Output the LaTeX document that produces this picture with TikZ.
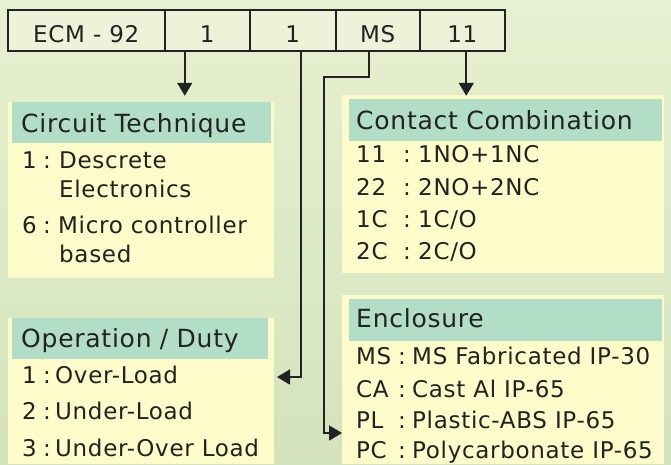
\documentclass[tikz,border=0pt]{standalone}
\usepackage{fontspec}
\setmainfont{DejaVu Sans}[LetterSpace=3.0]
\usetikzlibrary{arrows.meta,calc}
\definecolor{ink}{HTML}{222222}
\definecolor{hdrcol}{HTML}{B2DDC7}
\definecolor{bodycol}{HTML}{FDFBC9}
\definecolor{bgtop}{HTML}{E7F0D0}
\definecolor{bgbot}{HTML}{D3E3BD}
\definecolor{cellcol}{HTML}{ECF3D8}
\newcommand{\krow}[4]{\makebox[#1][l]{#2}\makebox[#3][l]{:}#4}
\begin{document}
\begin{tikzpicture}[x=1pt,y=-1pt,
  cell/.style={draw=ink, line width=1.5pt, fill=cellcol, text=ink, inner sep=0pt,
    minimum height=41pt, text height=23pt, text depth=0pt, anchor=west,
    font=\fontsize{23}{26}\selectfont},
  body/.style={fill=bodycol, inner sep=0pt, anchor=north west},
  header/.style={fill=hdrcol, text=ink, inner ysep=0pt, anchor=north west, align=left,
    text depth=0pt, font=\fontsize{25}{28}\selectfont},
  row/.style={text=ink, inner sep=0pt, anchor=base west, font=\fontsize{23}{26}\selectfont},
  conn/.style={draw=ink, line width=1.8pt},
  arr/.style={-{Triangle[length=13pt,width=15pt]}}
]
\useasboundingbox (0,0) rectangle (671,464);
\shade[top color=bgtop, bottom color=bgbot] (0,0) rectangle (671,464);

% code cells
\node[cell, minimum width=157pt] (c0) at (7,30.5) {ECM - 92};
\node[cell, minimum width=85pt] (c1) at (164,30.5) {1};
\node[cell, minimum width=86pt] (c2) at (249,30.5) {1};
\node[cell, minimum width=84pt] (c3) at (335,30.5) {MS};
\node[cell, minimum width=85pt] (c4) at (419,30.5) {11};

% Circuit Technique
\node[body, minimum width=266pt, minimum height=176pt] (ctbody) at (8,102) {};
\node[header, minimum height=41pt, text width=241pt, inner xsep=9pt, text height=19pt] (cth) at (12,102) {Circuit Technique};
\node[row] (ct1) at (22,168) {\krow{21pt}{1}{16pt}{Descrete}};
\node[row] (ct1b) at (59,197) {Electronics};
\node[row] (ct2) at (22,233) {\krow{21pt}{6}{15pt}{Micro controller}};
\node[row] (ct2b) at (59,262) {based};

% Contact Combination
\node[body, minimum width=322pt, minimum height=178pt] (ccbody) at (342,95) {};
\node[header, minimum height=42pt, text width=299pt, inner xsep=7pt, text height=18pt] (cch) at (349,99) {Contact Combination};
\node[row] (cc1) at (356,162) {\krow{47pt}{11}{15pt}{1NO+1NC}};
\node[row] (cc2) at (356,195) {\krow{47pt}{22}{15pt}{2NO+2NC}};
\node[row] (cc3) at (356,227) {\krow{47pt}{1C}{15pt}{1C/O}};
\node[row] (cc4) at (356,259) {\krow{47pt}{2C}{15pt}{2C/O}};

% Operation / Duty
\node[body, minimum width=266pt, minimum height=146pt] (odbody) at (8,318) {};
\node[header, minimum height=41pt, text width=238pt, inner xsep=9pt, text height=17pt] (odh) at (12,318) {Operation / Duty};
\node[row] (od1) at (22,383) {\krow{21pt}{1}{12pt}{Over-Load}};
\node[row] (od2) at (22,419) {\krow{21pt}{2}{12pt}{Under-Load}};
\node[row] (od3) at (22,456) {\krow{21pt}{3}{12pt}{Under-Over Load}};

% Enclosure
\node[body, minimum width=322pt, minimum height=169pt] (enbody) at (342,295) {};
\node[header, minimum height=42pt, text width=299pt, inner xsep=7pt, text height=14pt] (enh) at (349,299) {Enclosure};
\node[row] (en1) at (356,364) {\krow{42pt}{MS}{14pt}{MS Fabricated IP-30}};
\node[row] (en2) at (356,397) {\krow{42pt}{CA}{14pt}{Cast Al IP-65}};
\node[row] (en3) at (356,428) {\krow{42pt}{PL}{14pt}{Plastic-ABS IP-65}};
\node[row] (en4) at (356,458) {\krow{42pt}{PC}{14pt}{Polycarbonate IP-65}};

% connectors
\coordinate (odtip) at (277,377);
\coordinate (entip) at (342,433);
\draw[conn, arr] ([xshift=-22.5pt]c1.south) -- ++(0,44);
\draw[conn, arr] ([xshift=4pt]c4.south) -- ++(0,44);
\draw[conn, arr] ([xshift=8pt]c2.south) |- (odtip);
\draw[conn, arr] ([xshift=-9pt]c3.south) -- ++(0,25) -- ++(-45,0) |- (entip);
\end{tikzpicture}
\end{document}
